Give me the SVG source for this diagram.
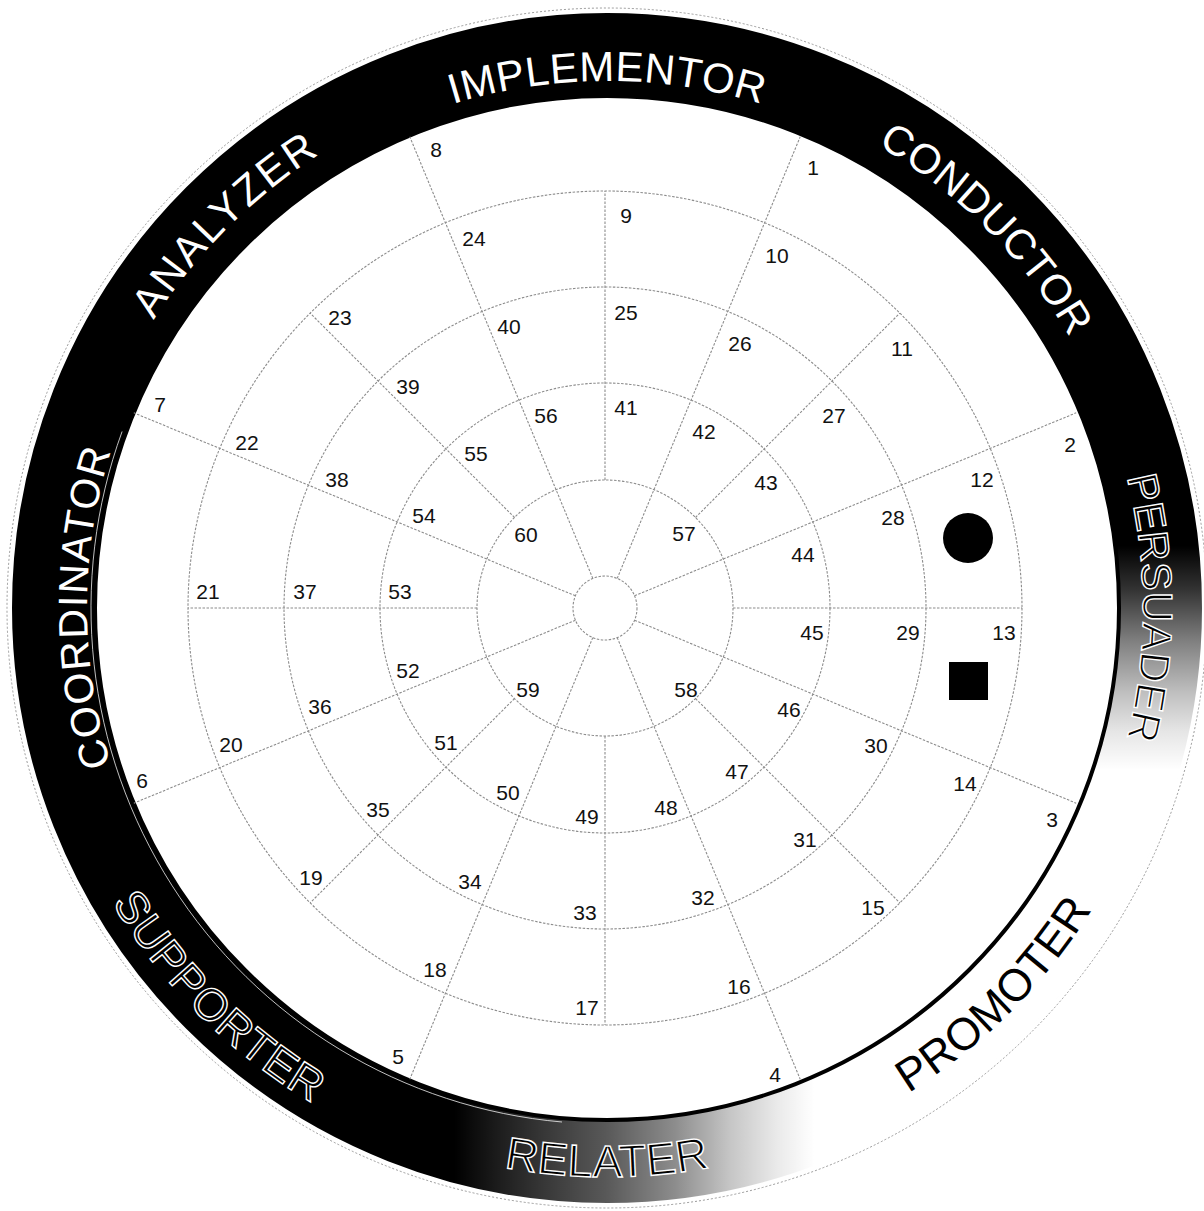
<svg xmlns="http://www.w3.org/2000/svg" width="1204" height="1211" viewBox="0 0 1204 1211">
<style>
.grid{fill:none;stroke:#8c8c8c;stroke-width:1.1;stroke-dasharray:2.5 1.5}
.num{font-family:"Liberation Sans",Arial,sans-serif;font-size:21px;fill:#111;text-anchor:middle}
.rl{font-family:"Liberation Sans",Arial,sans-serif;text-anchor:middle}
.rw{font-size:42px;fill:#fff}
.ro{font-size:45px;fill:#000;stroke:#fff;stroke-width:1.4}
.rb{font-size:45px;fill:#000}
</style>
<defs>
<linearGradient id="gA" gradientUnits="userSpaceOnUse" x1="0" y1="512" x2="0" y2="770">
<stop offset="0.13" stop-color="#fff" stop-opacity="0"/>
<stop offset="0.3" stop-color="#fff" stop-opacity="0.2"/>
<stop offset="0.5" stop-color="#fff" stop-opacity="0.5"/>
<stop offset="0.7" stop-color="#fff" stop-opacity="0.75"/>
<stop offset="0.85" stop-color="#fff" stop-opacity="0.9"/>
<stop offset="1" stop-color="#fff" stop-opacity="1"/>
</linearGradient>
<linearGradient id="gB" gradientUnits="userSpaceOnUse" x1="436" y1="0" x2="832" y2="0">
<stop offset="0.046" stop-color="#fff" stop-opacity="0"/>
<stop offset="0.165" stop-color="#fff" stop-opacity="0.12"/>
<stop offset="0.31" stop-color="#fff" stop-opacity="0.25"/>
<stop offset="0.432" stop-color="#fff" stop-opacity="0.35"/>
<stop offset="0.602" stop-color="#fff" stop-opacity="0.55"/>
<stop offset="0.746" stop-color="#fff" stop-opacity="0.78"/>
<stop offset="0.864" stop-color="#fff" stop-opacity="0.92"/>
<stop offset="0.955" stop-color="#fff" stop-opacity="1"/>
</linearGradient>
<path id="pImp" d="M 268.2 204.3 A 527 527 0 0 1 945.8 204.3"/>
<path id="pCon" d="M 653.7 74.0 A 536 536 0 0 1 1141.0 561.3"/>
<path id="pPer" d="M 1017.6 263.5 A 536 536 0 0 1 1017.6 952.5"/>
<path id="pAna" d="M 72.0 561.2 A 537 537 0 0 1 560.2 73.0"/>
<path id="pCoo" d="M 208.7 942.3 A 520 520 0 0 1 208.7 273.7"/>
<path id="pPro" d="M 656.8 1176.8 A 571 571 0 0 0 1175.8 657.8"/>
<path id="pRel" d="M 241.3 1043.9 A 569 569 0 0 0 972.7 1043.9"/>
<path id="pSup" d="M 33.2 658.2 A 576 576 0 0 0 556.8 1181.8"/>
</defs>
<rect width="1204" height="1211" fill="#fff"/>

<g id="ring">
<circle cx="607" cy="608" r="553.5" fill="none" stroke="#000" stroke-width="83"/>
<path d="M 1152.1 511.9 A 553.5 553.5 0 0 1 866.9 1096.7" fill="none" stroke="url(#gA)" stroke-width="85"/>
<path d="M 900.3 1077.4 A 553.5 553.5 0 0 1 436.0 1134.4" fill="none" stroke="url(#gB)" stroke-width="85"/>
<circle cx="607" cy="608" r="512" fill="none" stroke="#000" stroke-width="4"/>
<path d="M 562.0 1122.0 A 516 516 0 0 1 122.1 431.5" fill="none" stroke="#fff" stroke-width="1" stroke-opacity="0.75"/>
<circle cx="607" cy="608" r="600" fill="none" stroke="#9a9a9a" stroke-width="1" stroke-dasharray="2 2"/>
</g>

<g id="ring-labels">
<text class="rl rw"><textPath href="#pImp" startOffset="50%" textLength="313" lengthAdjust="spacing">IMPLEMENTOR</textPath></text>
<text class="rl rw"><textPath href="#pCon" startOffset="50%" textLength="275" lengthAdjust="spacing">CONDUCTOR</textPath></text>
<text class="rl rw"><textPath href="#pAna" startOffset="50%" textLength="236" lengthAdjust="spacing">ANALYZER</textPath></text>
<text class="rl rw" style="font-size:41px"><textPath href="#pCoo" startOffset="50%" textLength="318" lengthAdjust="spacing">COORDINATOR</textPath></text>
<text class="rl ro" style="font-size:42px"><textPath href="#pPer" startOffset="50%" textLength="264" lengthAdjust="spacing">PERSUADER</textPath></text>
<text class="rl rb"><textPath href="#pPro" startOffset="50%" textLength="262" lengthAdjust="spacing">PROMOTER</textPath></text>
<text class="rl ro"><textPath href="#pRel" startOffset="50%" textLength="207" lengthAdjust="spacing">RELATER</textPath></text>
<text class="rl ro"><textPath href="#pSup" startOffset="50%" textLength="286" lengthAdjust="spacing">SUPPORTER</textPath></text>
</g>

<g id="grid-circles">
<circle class="grid" cx="605" cy="608" r="32"/>
<circle class="grid" cx="605" cy="608" r="128"/>
<circle class="grid" cx="605" cy="608" r="225"/>
<circle class="grid" cx="605" cy="608" r="321"/>
<circle class="grid" cx="605" cy="608" r="417"/>
</g>

<g id="spokes">
<path class="grid" d="M 617.2 578.4 L 800.2 136.8"/>
<path class="grid" d="M 634.6 595.8 L 1076.2 412.8"/>
<path class="grid" d="M 634.6 620.2 L 1076.2 803.2"/>
<path class="grid" d="M 617.2 637.6 L 800.2 1079.2"/>
<path class="grid" d="M 592.8 637.6 L 409.8 1079.2"/>
<path class="grid" d="M 575.4 620.2 L 133.8 803.2"/>
<path class="grid" d="M 575.4 595.8 L 133.8 412.8"/>
<path class="grid" d="M 592.8 578.4 L 409.8 136.8"/>
<path class="grid" d="M 733 608 L 1022 608"/>
<path class="grid" d="M 695.5 698.5 L 899.9 902.9"/>
<path class="grid" d="M 605 736 L 605 1025"/>
<path class="grid" d="M 514.5 698.5 L 310.1 902.9"/>
<path class="grid" d="M 477 608 L 188 608"/>
<path class="grid" d="M 514.5 517.5 L 310.1 313.1"/>
<path class="grid" d="M 605 480 L 605 191"/>
<path class="grid" d="M 695.5 517.5 L 899.9 313.1"/>
</g>

<g id="cell-numbers">
<text class="num" x="813" y="175">1</text>
<text class="num" x="1070" y="452">2</text>
<text class="num" x="1052" y="827">3</text>
<text class="num" x="775" y="1082">4</text>
<text class="num" x="398" y="1064">5</text>
<text class="num" x="142" y="788">6</text>
<text class="num" x="160" y="412">7</text>
<text class="num" x="436" y="157">8</text>
<text class="num" x="626" y="223">9</text>
<text class="num" x="777" y="263">10</text>
<text class="num" x="902" y="356">11</text>
<text class="num" x="982" y="487">12</text>
<text class="num" x="1004" y="640">13</text>
<text class="num" x="965" y="791">14</text>
<text class="num" x="873" y="915">15</text>
<text class="num" x="739" y="994">16</text>
<text class="num" x="587" y="1015">17</text>
<text class="num" x="435" y="977">18</text>
<text class="num" x="311" y="885">19</text>
<text class="num" x="231" y="752">20</text>
<text class="num" x="208" y="599">21</text>
<text class="num" x="247" y="450">22</text>
<text class="num" x="340" y="325">23</text>
<text class="num" x="474" y="246">24</text>
<text class="num" x="626" y="320">25</text>
<text class="num" x="740" y="351">26</text>
<text class="num" x="834" y="423">27</text>
<text class="num" x="893" y="525">28</text>
<text class="num" x="908" y="640">29</text>
<text class="num" x="876" y="753">30</text>
<text class="num" x="805" y="847">31</text>
<text class="num" x="703" y="905">32</text>
<text class="num" x="585" y="920">33</text>
<text class="num" x="470" y="889">34</text>
<text class="num" x="378" y="817">35</text>
<text class="num" x="320" y="714">36</text>
<text class="num" x="305" y="599">37</text>
<text class="num" x="337" y="487">38</text>
<text class="num" x="408" y="394">39</text>
<text class="num" x="509" y="334">40</text>
<text class="num" x="626" y="415">41</text>
<text class="num" x="704" y="439">42</text>
<text class="num" x="766" y="490">43</text>
<text class="num" x="803" y="562">44</text>
<text class="num" x="812" y="640">45</text>
<text class="num" x="789" y="717">46</text>
<text class="num" x="737" y="779">47</text>
<text class="num" x="666" y="815">48</text>
<text class="num" x="587" y="824">49</text>
<text class="num" x="508" y="800">50</text>
<text class="num" x="446" y="750">51</text>
<text class="num" x="408" y="678">52</text>
<text class="num" x="400" y="599">53</text>
<text class="num" x="424" y="523">54</text>
<text class="num" x="476" y="461">55</text>
<text class="num" x="546" y="423">56</text>
<text class="num" x="684" y="541">57</text>
<text class="num" x="686" y="697">58</text>
<text class="num" x="528" y="697">59</text>
<text class="num" x="526" y="542">60</text>
</g>

<g id="markers">
<circle id="dot-marker" cx="968" cy="538" r="25" fill="#000"/>
<rect id="square-marker" x="949" y="662" width="39" height="38" fill="#000"/>
</g>
</svg>
